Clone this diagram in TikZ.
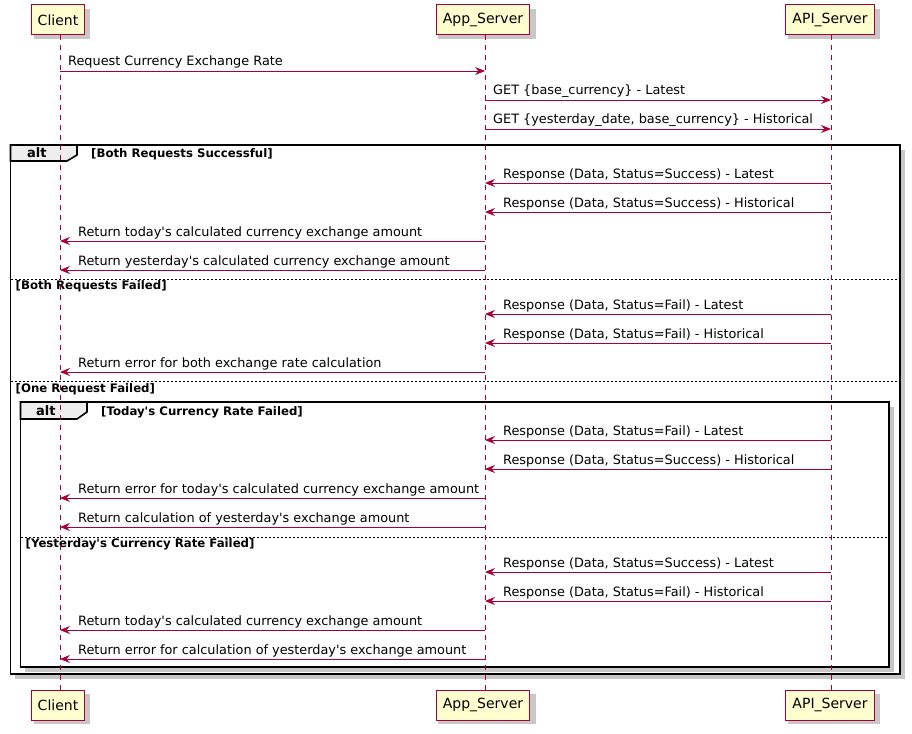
\documentclass[tikz,border=0pt]{standalone}
\usepackage{fontspec}
\setmainfont{DejaVu Sans}[Ligatures=TeXOff]
\usetikzlibrary{calc,arrows.meta}
\definecolor{umlred}{HTML}{A80036}
\definecolor{umlfill}{HTML}{FEFECE}
\definecolor{tabfill}{HTML}{EEEEEE}
\def\xc{60}\def\xa{485}\def\xp{831}
\newcommand\msgR[4]{%
  \coordinate (s#3) at (#1,#3); \coordinate (e#3) at (#2,#3);
  \draw[msg] (s#3) -- (e#3);
  \node[mtxt] (l#3) at ($(s#3)+(8,-5)$) {#4};}
\newcommand\msgL[4]{%
  \coordinate (s#3) at (#1,#3); \coordinate (e#3) at (#2,#3);
  \draw[msg] (s#3) -- (e#3);
  \node[mtxt] (l#3) at ($(e#3)+(18,-5)$) {#4};}
\begin{document}
\begin{tikzpicture}[x=1pt,y=-1pt,
  part/.style={draw=umlred,fill=umlfill,line width=1pt,minimum height=30pt,inner xsep=6.5pt,font=\fontsize{14}{16}\selectfont},
  life/.style={draw=umlred,line width=0.8pt,dash pattern=on 5pt off 5pt},
  msg/.style={draw=umlred,line width=0.9pt,-{Stealth[length=10pt,width=8pt,inset=3.5pt]}},
  mtxt/.style={anchor=base west,inner sep=0pt,font=\fontsize{12.85}{15}\selectfont},
  gtxt/.style={anchor=base west,inner sep=0pt,font=\bfseries\fontsize{11.75}{13}\selectfont},
  alttxt/.style={anchor=base west,inner sep=0pt,font=\bfseries\fontsize{13}{15}\selectfont},
  frame/.style={draw=black,line width=1.6pt},
  sep/.style={draw=black,line width=0.7pt,dash pattern=on 2pt off 2pt}]
\useasboundingbox (0,0) rectangle (912,733);
\fill[white] (0,0) rectangle (912,733);
% shadows of frames
\fill[black!22] (15,150) rectangle (905,679);
\fill[white] (10.5,145) rectangle (900,674);
\fill[black!22] (25,407) rectangle (894,672);
\fill[white] (20.5,402) rectangle (889,667);
% frames
\draw[frame] (10.5,145) rectangle (900,674);
\draw[frame,fill=tabfill] (10.5,145) -- (77,145) -- (77,155) -- (67,161) -- (10.5,161) -- cycle;
\node[alttxt] (alt1) at (27,157) {alt};
\node[gtxt] (g1) at (91,157) {[Both Requests Successful]};
\draw[sep] (10.5,279.5) -- (900,279.5);
\node[gtxt] (g2) at (15.5,289) {[Both Requests Failed]};
\draw[sep] (10.5,381.5) -- (900,381.5);
\node[gtxt] (g3) at (15.5,392) {[One Request Failed]};
\draw[frame] (20.5,402) rectangle (889,667);
\draw[frame,fill=tabfill] (20.5,402) -- (87,402) -- (87,412) -- (77,419) -- (20.5,419) -- cycle;
\node[alttxt] (alt2) at (36,415) {alt};
\node[gtxt] (g4) at (101,415) {[Today's Currency Rate Failed]};
\draw[sep] (20.5,537.5) -- (889,537.5);
\node[gtxt] (g5) at (25.5,547) {[Yesterday's Currency Rate Failed]};
% participant shadows
\foreach \x/\w in {58/56,483/98,830/92}{
  \fill[black!22] (\x-\w/2+4,9) rectangle (\x+\w/2+4,39);
  \fill[black!22] (\x-\w/2+4,694) rectangle (\x+\w/2+4,724);
}
% participants
\node[part] (cT) at (58,20) {Client};
\node[part] (aT) at (483,20) {App\_Server};
\node[part] (pT) at (830,20) {API\_Server};
\node[part] (cB) at (58,705) {Client};
\node[part] (aB) at (483,705) {App\_Server};
\node[part] (pB) at (830,705) {API\_Server};
% lifelines
\draw[life] (\xc,35) -- (\xc,690);
\draw[life] (\xa,35) -- (\xa,690);
\draw[life] (\xp,35) -- (\xp,690);
% messages
\msgR{\xc}{\xa}{71}{Request Currency Exchange Rate}
\msgR{\xa}{\xp}{100}{GET \{base\_currency\} - Latest}
\msgR{\xa}{\xp}{129}{GET \{yesterday\_date, base\_currency\} - Historical}
\msgL{\xp}{\xa}{183}{Response (Data, Status=Success) - Latest}
\msgL{\xp}{\xa}{212}{Response (Data, Status=Success) - Historical}
\msgL{\xa}{\xc}{241}{Return today's calculated currency exchange amount}
\msgL{\xa}{\xc}{270}{Return yesterday's calculated currency exchange amount}
\msgL{\xp}{\xa}{314}{Response (Data, Status=Fail) - Latest}
\msgL{\xp}{\xa}{343}{Response (Data, Status=Fail) - Historical}
\msgL{\xa}{\xc}{372}{Return error for both exchange rate calculation}
\msgL{\xp}{\xa}{440}{Response (Data, Status=Fail) - Latest}
\msgL{\xp}{\xa}{469}{Response (Data, Status=Success) - Historical}
\msgL{\xa}{\xc}{498}{Return error for today's calculated currency exchange amount}
\msgL{\xa}{\xc}{527}{Return calculation of yesterday's exchange amount}
\msgL{\xp}{\xa}{572}{Response (Data, Status=Success) - Latest}
\msgL{\xp}{\xa}{601}{Response (Data, Status=Fail) - Historical}
\msgL{\xa}{\xc}{630}{Return today's calculated currency exchange amount}
\msgL{\xa}{\xc}{659}{Return error for calculation of yesterday's exchange amount}
\end{tikzpicture}
\end{document}
